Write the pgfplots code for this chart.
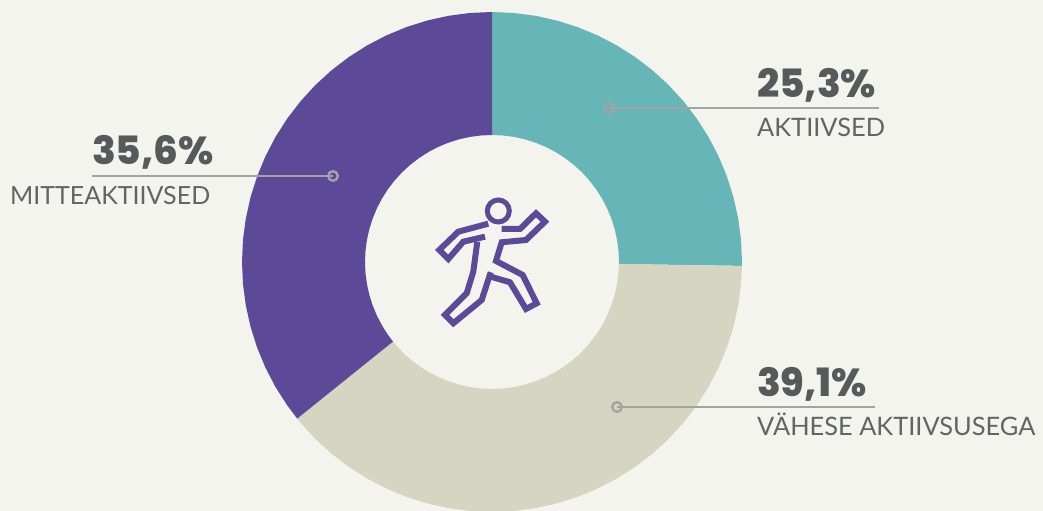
\documentclass[border=0pt]{standalone}
\usepackage{pgfplots}
\usepackage{fontspec}
\pgfplotsset{compat=1.18}
\usepgfplotslibrary{polar}
\setmainfont{Lato}
\newfontfamily\numfont{Poppins ExtraBold}

\definecolor{bg}{HTML}{F3F4EE}
\definecolor{cTeal}{HTML}{66B5B7}
\definecolor{cBeige}{HTML}{D6D5C2}
\definecolor{cPurple}{HTML}{5C4A99}
\definecolor{cText}{HTML}{58595B}
\definecolor{cLabel}{HTML}{636466}
\definecolor{cLead}{HTML}{A3A3A3}

\begin{document}
\begin{tikzpicture}
\begin{axis}[
    width=1043pt, height=511pt,
    scale only axis,
    axis lines=none,
    xmin=-492, xmax=551,
    ymin=-249, ymax=262,
    axis background/.style={fill=bg},
    clip=true,
    clip mode=individual,
    lead/.style={cLead, line width=1.1pt},
    dot/.style={only marks, mark=o, mark size=4.8pt, mark options={draw=cLead, fill=none, line width=2.4pt}},
    icon/.style={cPurple, line width=6pt, line join=miter, line cap=butt},
]
% slices, 25.3 / 39.1 / 35.6 percent, clockwise from the top (angle, radius)
\addplot[data cs=polar, fill=cTeal, draw=none] coordinates {
    (90,250) (85,250) (80,250) (75,250) (70,250) (65,250) (60,250) (55,250) (50,250)
    (45,250) (40,250) (35,250) (30,250) (25,250) (20,250) (15,250) (10,250) (5,250)
    (0,250) (-0.9,250)
    (-0.9,127) (0,127) (5,127) (10,127) (15,127) (20,127) (25,127) (30,127) (35,127)
    (40,127) (45,127) (50,127) (55,127) (60,127) (65,127) (70,127) (75,127) (80,127)
    (85,127) (90,127)} -- cycle;
\addplot[data cs=polar, fill=cBeige, draw=none] coordinates {
    (-0.9,250) (-5,250) (-10,250) (-15,250) (-20,250) (-25,250) (-30,250) (-35,250)
    (-40,250) (-45,250) (-50,250) (-55,250) (-60,250) (-65,250) (-70,250) (-75,250)
    (-80,250) (-85,250) (-90,250) (-95,250) (-100,250) (-105,250) (-110,250) (-115,250)
    (-120,250) (-125,250) (-130,250) (-135,250) (-140,250) (-141.2,250)
    (-141.2,127) (-140,127) (-135,127) (-130,127) (-125,127) (-120,127) (-115,127)
    (-110,127) (-105,127) (-100,127) (-95,127) (-90,127) (-85,127) (-80,127) (-75,127)
    (-70,127) (-65,127) (-60,127) (-55,127) (-50,127) (-45,127) (-40,127) (-35,127)
    (-30,127) (-25,127) (-20,127) (-15,127) (-10,127) (-5,127) (-0.9,127)} -- cycle;
\addplot[data cs=polar, fill=cPurple, draw=none] coordinates {
    (-141.2,250) (-145,250) (-150,250) (-155,250) (-160,250) (-165,250) (-170,250)
    (-175,250) (-180,250) (-185,250) (-190,250) (-195,250) (-200,250) (-205,250)
    (-210,250) (-215,250) (-220,250) (-225,250) (-230,250) (-235,250) (-240,250)
    (-245,250) (-250,250) (-255,250) (-260,250) (-265,250) (-270,250)
    (-270,127) (-265,127) (-260,127) (-255,127) (-250,127) (-245,127) (-240,127)
    (-235,127) (-230,127) (-225,127) (-220,127) (-215,127) (-210,127) (-205,127)
    (-200,127) (-195,127) (-190,127) (-185,127) (-180,127) (-175,127) (-170,127)
    (-165,127) (-160,127) (-155,127) (-150,127) (-145,127) (-141.2,127)} -- cycle;

% leader lines
\addplot[lead] coordinates {(117,154) (387,154)};
\addplot[lead] coordinates {(125,-145) (383,-145)};
\addplot[lead] coordinates {(-159,86) (-400,86)};
\addplot[dot] coordinates {(117,154) (125,-145) (-159,86)};

% runner icon
\addplot[only marks, mark=o, mark size=11pt, mark options={draw=cPurple, fill=none, line width=5pt}] coordinates {(6.3,51)};
\addplot[icon] coordinates {(-3.7,38.3) (-33.7,30.3) (-52.7,12) (-43.7,3) (-28.7,20.3) (-7,25.3)};
\addplot[icon] coordinates {(9.7,33) (28,33) (44,48.7) (53,40.3) (34,22) (9.7,19.7) (4,1)
    (30.7,-13) (44.7,-41.3) (34,-47) (18,-20.3) (-1.3,-14.7)};
\addplot[icon] coordinates {(-14.7,20.3) (-18.7,-9.7) (-25.3,-31.3) (-47,-53) (-38.7,-61.3)
    (-10.3,-38) (-1.3,-10.3)};

% labels
\node[anchor=base west, inner sep=0pt, text=cText, font=\numfont\fontsize{39}{39}\selectfont] at (axis cs:265,164) {25,3\%};
\node[anchor=base west, inner sep=0pt, text=cLabel, font=\fontsize{25.4}{25.4}\selectfont] at (axis cs:265,125) {AKTIIVSED};
\node[anchor=base west, inner sep=0pt, text=cText, font=\numfont\fontsize{39}{39}\selectfont] at (axis cs:265,-135) {39,1\%};
\node[anchor=base west, inner sep=0pt, text=cLabel, font=\fontsize{25.4}{25.4}\selectfont] at (axis cs:265,-174) {VÄHESE AKTIIVSUSEGA};
\node[anchor=base west, inner sep=0pt, text=cText, font=\numfont\fontsize{39}{39}\selectfont] at (axis cs:-400,97) {35,6\%};
\node[anchor=base west, inner sep=0pt, text=cLabel, font=\fontsize{25}{25}\selectfont] at (axis cs:-482,57) {MITTEAKTIIVSED};
\end{axis}
\end{tikzpicture}
\end{document}
